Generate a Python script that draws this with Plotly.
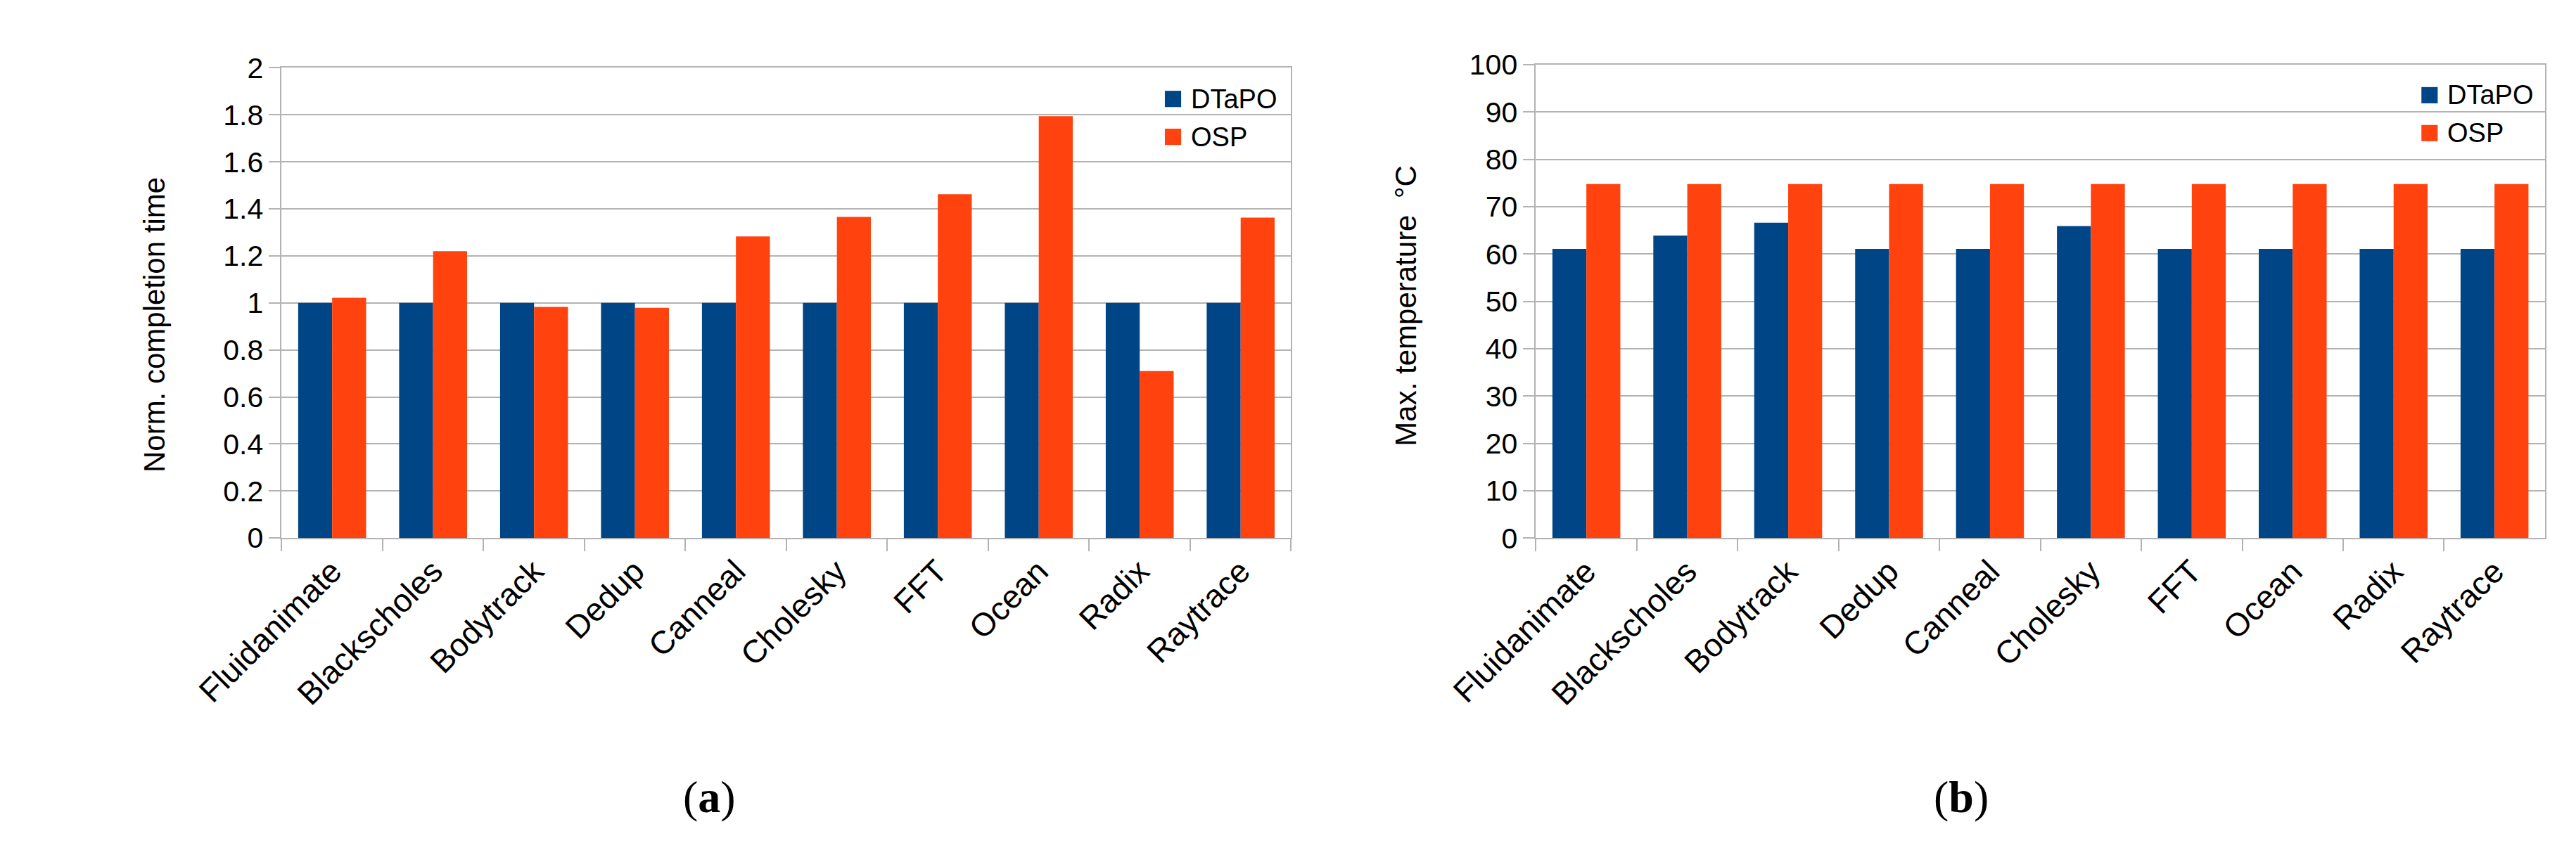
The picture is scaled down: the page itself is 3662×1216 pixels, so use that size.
import plotly.graph_objects as go

# ---- data ----
benchmarks = ["Fluidanimate", "Blackscholes", "Bodytrack", "Dedup", "Canneal",
              "Cholesky", "FFT", "Ocean", "Radix", "Raytrace"]
series_names = ["DTaPO", "OSP"]
time_dtapo = [1.0, 1.0, 1.0, 1.0, 1.0, 1.0, 1.0, 1.0, 1.0, 1.0]
time_osp = [1.022, 1.22, 0.983, 0.979, 1.283, 1.366, 1.462, 1.794, 0.71, 1.363]
temp_dtapo = [61.1, 63.9, 66.6, 61.1, 61.1, 65.9, 61.1, 61.1, 61.1, 61.1]
temp_osp = [74.8, 74.8, 74.8, 74.8, 74.8, 74.8, 74.8, 74.8, 74.8, 74.8]
y1_title = "Norm. completion time"
y2_title = "Max. temperature  °C"
captions = ["(<b>a</b>)", "(<b>b</b>)"]

# ---- style ----
W, H = 3662, 1216
BLUE = "#004586"
ORANGE = "#ff420e"
GRID = "#b3b3b3"
FONT = "Liberation Sans"

def px(x):
    return x / W

def py(y):
    return 1 - y / H

fig = go.Figure()
fig.add_trace(go.Bar(x=benchmarks, y=time_dtapo, name=series_names[0], marker_color=BLUE,
                     marker_line_width=0, xaxis="x", yaxis="y", showlegend=False))
fig.add_trace(go.Bar(x=benchmarks, y=time_osp, name=series_names[1], marker_color=ORANGE,
                     marker_line_width=0, xaxis="x", yaxis="y", showlegend=False))
fig.add_trace(go.Bar(x=benchmarks, y=temp_dtapo, name=series_names[0], marker_color=BLUE,
                     marker_line_width=0, xaxis="x2", yaxis="y2", showlegend=False))
fig.add_trace(go.Bar(x=benchmarks, y=temp_osp, name=series_names[1], marker_color=ORANGE,
                     marker_line_width=0, xaxis="x2", yaxis="y2", showlegend=False))

xcommon = dict(type="category", tickson="boundaries", ticks="outside", ticklen=17,
               tickcolor=GRID, tickwidth=2, tickangle=-45, showgrid=False,
               showline=True, linecolor=GRID, linewidth=2, mirror=True,
               tickfont=dict(family=FONT, size=46, color="black"))
ycommon = dict(ticks="outside", ticklen=16, tickcolor=GRID, tickwidth=2,
               showgrid=True, gridcolor=GRID, gridwidth=2,
               showline=True, linecolor=GRID, linewidth=2, mirror=True,
               zeroline=False, tickfont=dict(family=FONT, size=41, color="black"))

fig.update_layout(
    width=W, height=H, margin=dict(l=0, r=0, t=0, b=0),
    paper_bgcolor="white", plot_bgcolor="white",
    barmode="group", bargap=0.327, bargroupgap=0,
    xaxis=dict(domain=[px(274), px(1761)], anchor="y", **xcommon),
    yaxis=dict(domain=[py(763), py(68)], anchor="x", range=[0, 2], dtick=0.2, **ycommon),
    xaxis2=dict(domain=[px(2121.6), px(3608)], anchor="y2", **xcommon),
    yaxis2=dict(domain=[py(763.3), py(63.3)], anchor="x2", range=[0, 100], dtick=10, **ycommon),
)

annotations = [
    dict(text=y1_title, x=px(86), y=py(448), textangle=-90, showarrow=False,
         xref="paper", yref="paper", xanchor="center", yanchor="middle",
         font=dict(family=FONT, size=42, color="black")),
    dict(text=y2_title, x=px(1930), y=py(420), textangle=-90, showarrow=False,
         xref="paper", yref="paper", xanchor="center", yanchor="middle",
         font=dict(family=FONT, size=42, color="black")),
    dict(text=captions[0], x=px(904), y=py(1146), showarrow=False,
         xref="paper", yref="paper", xanchor="center", yanchor="middle",
         font=dict(family="Liberation Serif", size=64, color="black")),
    dict(text=captions[1], x=px(2748), y=py(1146), showarrow=False,
         xref="paper", yref="paper", xanchor="center", yanchor="middle",
         font=dict(family="Liberation Serif", size=64, color="black")),
]
shapes = []
# manual legends (square swatches + labels)
legend_specs = [
    (1575, 114, 170),   # left chart: swatch left x, first row center y, second row center y
    (3426, 108.5, 164.5),
]
for lx, r1, r2 in legend_specs:
    for (cy, name, col) in [(r1, series_names[0], BLUE), (r2, series_names[1], ORANGE)]:
        shapes.append(dict(type="rect", xref="paper", yref="paper",
                           x0=px(lx), x1=px(lx + 24), y0=py(cy + 12), y1=py(cy - 12),
                           fillcolor=col, line=dict(width=0)))
        annotations.append(dict(text=name, x=px(lx + 36), y=py(cy), showarrow=False,
                                xref="paper", yref="paper", xanchor="left", yanchor="middle",
                                font=dict(family=FONT, size=38, color="black")))

fig.update_layout(annotations=annotations, shapes=shapes)
fig.write_html("out.html")
